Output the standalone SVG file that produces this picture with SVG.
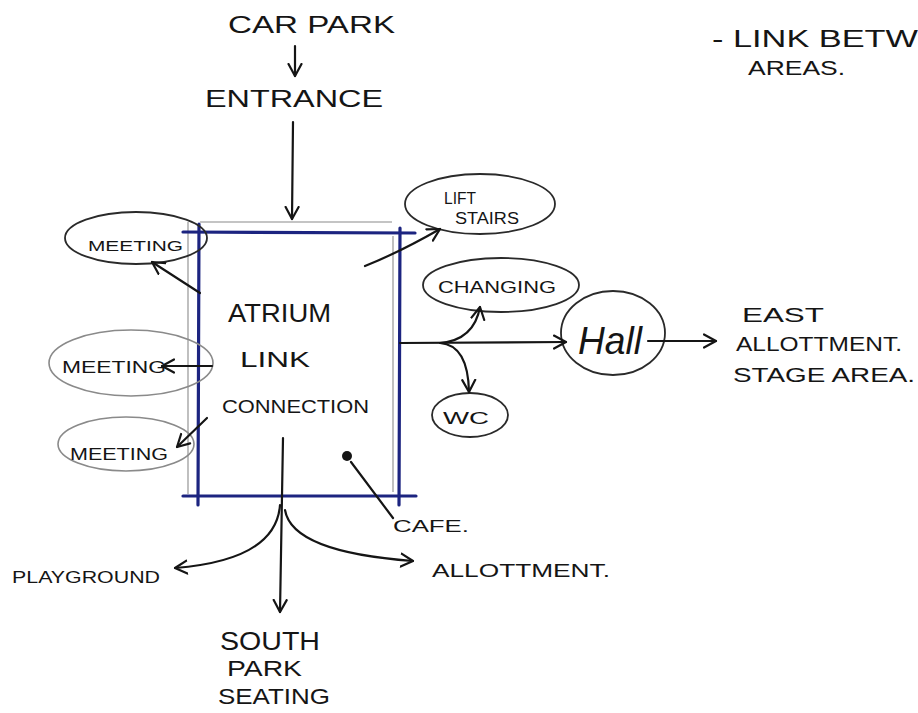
<svg xmlns="http://www.w3.org/2000/svg" width="918" height="713" viewBox="0 0 918 713">
<defs>
<style>
.t{font-family:"Liberation Sans",Arial,sans-serif;fill:#151515}
.ln{fill:none;stroke:#151515;stroke-width:2.2;stroke-linecap:round;stroke-linejoin:round}
.el{fill:none;stroke:#2a2a2a;stroke-width:1.8}
.elg{fill:none;stroke:#8a8a8a;stroke-width:1.6}
.blue{stroke:#1c2480;stroke-width:3.2;stroke-linecap:round;fill:none}
.grey{stroke:#b0b0b0;stroke-width:1.6;fill:none}
</style>
<marker id="ah" markerUnits="userSpaceOnUse" markerWidth="16" markerHeight="16" refX="13" refY="8" orient="auto" viewBox="0 0 16 16">
<path d="M1,1.5 L13,8 L1,14.5" fill="none" stroke="#151515" stroke-width="2.2" stroke-linecap="round" stroke-linejoin="round"/>
</marker>
</defs>
<rect width="918" height="713" fill="#ffffff"/>

<g id="atrium">
<line class="grey" x1="200" y1="222" x2="392" y2="222"/>
<line class="grey" x1="188" y1="222" x2="188" y2="494"/>
<line class="grey" x1="393" y1="236" x2="393" y2="492"/>
<line class="blue" x1="183" y1="232" x2="415" y2="233"/>
<line class="blue" x1="199" y1="224" x2="198" y2="505"/>
<line class="blue" x1="400" y1="228" x2="399" y2="505"/>
<line class="blue" x1="183" y1="496" x2="416" y2="496"/>
<text class="t" x="228" y="322" font-size="26" textLength="103" lengthAdjust="spacingAndGlyphs">ATRIUM</text>
<text class="t" x="240" y="367" font-size="22" textLength="70" lengthAdjust="spacingAndGlyphs">LINK</text>
<text class="t" x="222" y="413" font-size="18" textLength="147" lengthAdjust="spacingAndGlyphs">CONNECTION</text>
<circle cx="347" cy="456" r="5" fill="#151515"/>
</g>

<g id="carpark">
<text class="t" x="228" y="33" font-size="24" textLength="167" lengthAdjust="spacingAndGlyphs">CAR PARK</text>
</g>
<g id="entrance">
<text class="t" x="205" y="107" font-size="24" textLength="178" lengthAdjust="spacingAndGlyphs">ENTRANCE</text>
</g>
<g id="note">
<text class="t" x="712" y="47" font-size="24" textLength="206" lengthAdjust="spacingAndGlyphs">- LINK BETW</text>
<text class="t" x="748" y="75" font-size="20" textLength="97" lengthAdjust="spacingAndGlyphs">AREAS.</text>
</g>

<g id="meeting1">
<ellipse class="el" cx="136" cy="238" rx="71" ry="26"/>
<text class="t" x="88" y="251" font-size="15" textLength="95" lengthAdjust="spacingAndGlyphs">MEETING</text>
</g>
<g id="meeting2">
<ellipse class="elg" cx="131" cy="363" rx="82" ry="33"/>
<text class="t" x="62" y="373" font-size="17" textLength="104" lengthAdjust="spacingAndGlyphs">MEETING</text>
</g>
<g id="meeting3">
<ellipse class="elg" cx="126" cy="444" rx="68" ry="27"/>
<text class="t" x="70" y="460" font-size="17" textLength="98" lengthAdjust="spacingAndGlyphs">MEETING</text>
</g>
<g id="lift">
<ellipse class="el" cx="480" cy="204" rx="75" ry="30"/>
<text class="t" x="444" y="204" font-size="16" textLength="32" lengthAdjust="spacingAndGlyphs">LIFT</text>
<text class="t" x="455" y="224" font-size="16" textLength="64" lengthAdjust="spacingAndGlyphs">STAIRS</text>
</g>
<g id="changing">
<ellipse class="el" cx="501" cy="285" rx="78" ry="27"/>
<text class="t" x="438" y="293" font-size="16" textLength="118" lengthAdjust="spacingAndGlyphs">CHANGING</text>
</g>
<g id="wc">
<ellipse class="el" cx="470" cy="415" rx="38" ry="22"/>
<text class="t" x="443" y="424" font-size="16" textLength="46" lengthAdjust="spacingAndGlyphs">WC</text>
</g>
<g id="hall">
<ellipse class="el" cx="613" cy="333" rx="52" ry="42"/>
<text class="t" x="578" y="354" font-size="38" font-style="italic" textLength="64" lengthAdjust="spacingAndGlyphs">Hall</text>
</g>
<g id="east">
<text class="t" x="742" y="322" font-size="20" textLength="82" lengthAdjust="spacingAndGlyphs">EAST</text>
<text class="t" x="736" y="351" font-size="20" textLength="166" lengthAdjust="spacingAndGlyphs">ALLOTTMENT.</text>
<text class="t" x="733" y="382" font-size="20" textLength="182" lengthAdjust="spacingAndGlyphs">STAGE AREA.</text>
</g>
<g id="cafe">
<text class="t" x="393" y="532" font-size="16" textLength="76" lengthAdjust="spacingAndGlyphs">CAFE.</text>
</g>
<g id="playground">
<text class="t" x="12" y="583" font-size="16" textLength="148" lengthAdjust="spacingAndGlyphs">PLAYGROUND</text>
</g>
<g id="allotment">
<text class="t" x="432" y="577" font-size="18" textLength="178" lengthAdjust="spacingAndGlyphs">ALLOTTMENT.</text>
</g>
<g id="south">
<text class="t" x="220" y="650" font-size="26" textLength="100" lengthAdjust="spacingAndGlyphs">SOUTH</text>
<text class="t" x="227" y="676" font-size="22" textLength="75" lengthAdjust="spacingAndGlyphs">PARK</text>
<text class="t" x="218" y="704" font-size="22" textLength="112" lengthAdjust="spacingAndGlyphs">SEATING</text>
</g>

<g id="connectors">
<line class="ln" x1="295" y1="46" x2="295" y2="76" marker-end="url(#ah)"/>
<line class="ln" x1="293" y1="122" x2="292" y2="219" marker-end="url(#ah)"/>
<line class="ln" x1="200" y1="293" x2="152" y2="262" marker-end="url(#ah)"/>
<line class="ln" x1="212" y1="366" x2="162" y2="366" marker-end="url(#ah)"/>
<line class="ln" x1="207" y1="418" x2="177" y2="447" marker-end="url(#ah)"/>
<path class="ln" d="M365,266 Q400,252 440,229" marker-end="url(#ah)"/>
<line class="ln" x1="400" y1="343" x2="566" y2="342" marker-end="url(#ah)"/>
<path class="ln" d="M440,343 Q474,340 480,307" marker-end="url(#ah)"/>
<path class="ln" d="M440,343 Q468,345 469,392" marker-end="url(#ah)"/>
<line class="ln" x1="648" y1="341" x2="716" y2="341" marker-end="url(#ah)"/>
<line class="ln" x1="283" y1="438" x2="280" y2="612" marker-end="url(#ah)"/>
<path class="ln" d="M280,505 Q276,560 175,568" marker-end="url(#ah)"/>
<path class="ln" d="M285,510 Q292,552 413,561" marker-end="url(#ah)"/>
<line class="ln" x1="393" y1="518" x2="351" y2="462"/>
</g>
</svg>
